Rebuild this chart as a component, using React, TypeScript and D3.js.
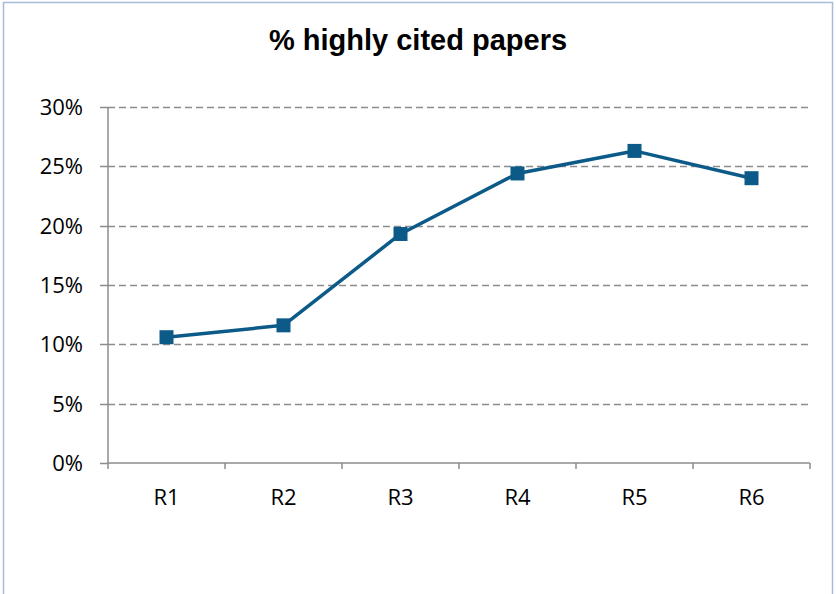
import React, { useEffect, useRef } from "react";
import * as d3 from "d3";

const categories = ["R1", "R2", "R3", "R4", "R5", "R6"];
const values = [0.106, 0.116, 0.193, 0.244, 0.263, 0.240];
const yTicks = [0, 0.05, 0.1, 0.15, 0.2, 0.25, 0.3];
const title = "% highly cited papers";

export default function App() {
  const ref = useRef<SVGSVGElement>(null);
  useEffect(() => {
    const svg = d3.select(ref.current);
    svg.selectAll("*").remove();
    const W = 836, H = 594;
    const left = 108, right = 810, top = 107, bottom = 463;
    const x = d3.scaleBand().domain(categories).range([left, right]).padding(0);
    const y = d3.scaleLinear().domain([0, 0.3]).range([bottom, top]);
    const grey = "#8c8c8c";
    const lineColor = "#0c5a88";

    svg.append("rect").attr("x", 3.5).attr("y", 2.5).attr("width", 829).attr("height", H + 10)
      .attr("fill", "white").attr("stroke", "#a7bcdc").attr("stroke-width", 1.5);

    svg.append("text").attr("x", 418).attr("y", 50).attr("text-anchor", "middle")
      .attr("font-family", "Liberation Sans, Arial, sans-serif").attr("font-weight", "bold")
      .attr("font-size", 29).attr("fill", "#000").text(title);

    // gridlines
    svg.append("g").selectAll("line").data(yTicks.filter(t => t > 0)).join("line")
      .attr("x1", left).attr("x2", right)
      .attr("y1", d => Math.round(y(d)) + 0.5).attr("y2", d => Math.round(y(d)) + 0.5)
      .attr("stroke", grey).attr("stroke-width", 1.5).attr("stroke-dasharray", "7,4");

    // y axis
    const yAxis = svg.append("g");
    yAxis.append("line").attr("x1", left).attr("x2", left).attr("y1", top).attr("y2", bottom)
      .attr("stroke", grey).attr("stroke-width", 1.5);
    yAxis.selectAll("line.t").data(yTicks).join("line").attr("class", "t")
      .attr("x1", left - 8).attr("x2", left)
      .attr("y1", d => Math.round(y(d)) + 0.5).attr("y2", d => Math.round(y(d)) + 0.5)
      .attr("stroke", grey).attr("stroke-width", 1.5);
    yAxis.selectAll("text").data(yTicks).join("text")
      .attr("x", 83).attr("y", d => y(d) + 8).attr("text-anchor", "end")
      .attr("font-family", "Open Sans, sans-serif").attr("font-size", 22).attr("fill", "#000")
      .text(d => d3.format(".0%")(d));

    // x axis
    const xAxis = svg.append("g");
    xAxis.append("line").attr("x1", left).attr("x2", right).attr("y1", bottom).attr("y2", bottom)
      .attr("stroke", grey).attr("stroke-width", 1.5);
    const bounds = categories.map(c => x(c)!).concat([right]);
    xAxis.selectAll("line.t").data(bounds).join("line").attr("class", "t")
      .attr("x1", d => d).attr("x2", d => d).attr("y1", bottom).attr("y2", bottom + 6)
      .attr("stroke", grey).attr("stroke-width", 1.5);
    xAxis.selectAll("text").data(categories).join("text")
      .attr("x", d => x(d)! + x.bandwidth() / 2).attr("y", 505).attr("text-anchor", "middle")
      .attr("font-family", "Open Sans, sans-serif").attr("font-size", 22).attr("fill", "#000")
      .text(d => d);

    const cx = (i: number) => x(categories[i])! + x.bandwidth() / 2;
    const line = d3.line<number>().x((_, i) => cx(i)).y(d => y(d));
    svg.append("path").attr("d", line(values)!).attr("fill", "none")
      .attr("stroke", lineColor).attr("stroke-width", 3.5).attr("stroke-linejoin", "round");
    const s = 14;
    svg.append("g").selectAll("rect").data(values).join("rect")
      .attr("x", (_, i) => cx(i) - s / 2).attr("y", d => y(d) - s / 2)
      .attr("width", s).attr("height", s).attr("fill", lineColor);
  }, []);
  return (
    <svg ref={ref} width={836} height={594}
      style={{ position: "absolute", left: 0, top: 0, display: "block" }} />
  );
}
